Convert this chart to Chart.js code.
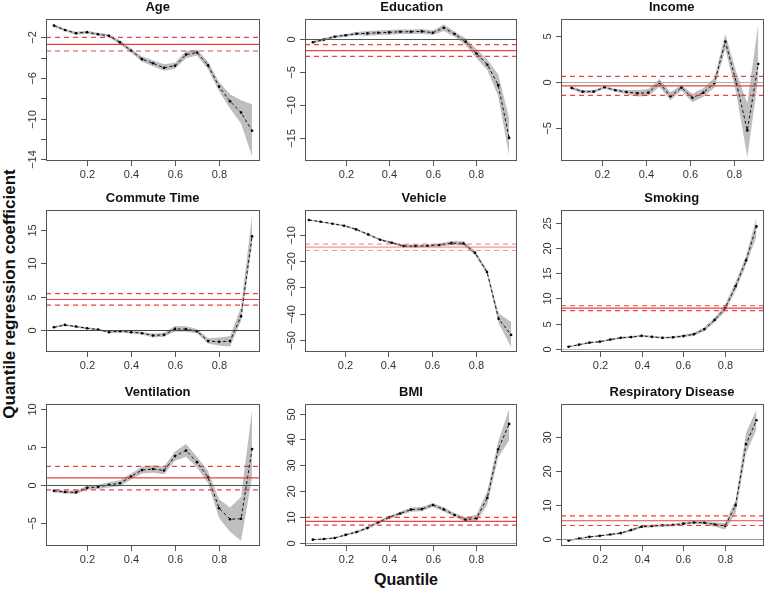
<!DOCTYPE html>
<html><head><meta charset="utf-8">
<script src="https://cdn.jsdelivr.net/npm/chart.js@4.4.1/dist/chart.umd.min.js"></script>
<style>
body{margin:0;background:#fff;width:778px;height:589px;position:relative;overflow:hidden;font-family:"Liberation Sans",Arial,Helvetica,sans-serif}
canvas{position:absolute}
#ytitle{position:absolute;left:10px;top:294px;transform:translate(-50%,-50%) rotate(-90deg);white-space:nowrap;font-weight:bold;font-size:17px;color:#111}
#xtitle{position:absolute;left:406px;top:580px;transform:translate(-50%,-50%);white-space:nowrap;font-weight:bold;font-size:16px;color:#111}
</style></head>
<body>
<div id="ytitle">Quantile regression coefficient</div>
<div id="xtitle">Quantile</div>
<script>
// ---------- data ----------
const panelTitles = ["Age","Education","Income","Commute Time","Vehicle","Smoking","Ventilation","BMI","Respiratory Disease"];
const quantiles = [0.05,0.10,0.15,0.20,0.25,0.30,0.35,0.40,0.45,0.50,0.55,0.60,0.65,0.70,0.75,0.80,0.85,0.90,0.95];
const incomeQuantiles = [0.06,0.11,0.16,0.21,0.26,0.31,0.36,0.41,0.46,0.51,0.56,0.61,0.66,0.71,0.76,0.81,0.86,0.91];
const vehicleQuantiles = [0.037,0.090,0.145,0.198,0.253,0.308,0.363,0.416,0.470,0.524,0.579,0.634,0.689,0.744,0.797,0.852,0.905,0.962];

const ageCoef  = [-0.85,-1.28,-1.6,-1.5,-1.7,-1.85,-2.5,-3.3,-4.15,-4.55,-5.0,-4.8,-3.7,-3.5,-4.75,-6.85,-8.3,-9.4,-11.2];
const ageUpper = [-0.7,-1.15,-1.45,-1.35,-1.55,-1.7,-2.3,-3.1,-3.9,-4.25,-4.65,-4.5,-3.35,-3.2,-4.4,-6.4,-7.6,-8.2,-8.6];
const ageLower = [-1.0,-1.4,-1.75,-1.65,-1.85,-2.0,-2.7,-3.5,-4.4,-4.85,-5.3,-5.1,-4.05,-3.8,-5.15,-7.3,-9.0,-10.5,-13.7];

const eduCoef  = [-0.5,-0.1,0.35,0.55,0.8,0.85,0.95,1.0,1.1,1.1,1.15,0.95,1.7,0.75,-0.4,-2.2,-3.9,-7.0,-15.0];
const eduUpper = [-0.3,0.1,0.55,0.75,1.05,1.2,1.3,1.35,1.45,1.45,1.5,1.3,2.2,1.15,0.1,-1.5,-3.1,-5.4,-12.0];
const eduLower = [-0.7,-0.3,0.15,0.35,0.55,0.5,0.6,0.65,0.75,0.75,0.8,0.6,1.2,0.35,-0.9,-2.9,-4.7,-8.7,-17.7];

const incCoef  = [-0.62,-1.03,-1.03,-0.55,-0.88,-1.07,-1.2,-1.14,-0.07,-1.54,-0.59,-1.69,-1.14,-0.11,4.45,-0.07,-5.26,1.99];
const incUpper = [-0.45,-0.85,-0.85,-0.4,-0.7,-0.85,-0.85,-0.75,0.35,-1.1,-0.3,-1.25,-0.65,0.5,5.25,1.1,-2.3,6.4];
const incLower = [-0.8,-1.2,-1.2,-0.7,-1.05,-1.3,-1.55,-1.5,-0.5,-2.0,-0.9,-2.2,-1.6,-0.6,3.6,-1.2,-8.2,0.4];

const comCoef  = [0.35,0.7,0.45,0.2,0.0,-0.4,-0.25,-0.4,-0.55,-0.9,-0.8,0.1,0.05,-0.25,-1.75,-1.85,-1.75,2.0,14.1];
const comUpper = [0.5,0.85,0.6,0.35,0.15,-0.25,-0.05,-0.2,-0.35,-0.6,-0.5,0.55,0.5,0.1,-1.3,-1.2,-1.0,3.4,17.3];
const comLower = [0.2,0.55,0.3,0.05,-0.15,-0.55,-0.45,-0.6,-0.75,-1.2,-1.1,-0.3,-0.35,-0.55,-2.1,-2.4,-2.6,1.3,12.8];

const vehCoef  = [-4.41,-5.05,-5.81,-6.57,-7.97,-9.87,-11.9,-13.05,-14.3,-14.3,-14.2,-13.9,-13.2,-13.3,-16.9,-24.2,-42.0,-48.1];
const vehUpper = [-4.1,-4.75,-5.5,-6.25,-7.65,-9.5,-11.5,-12.6,-13.8,-13.8,-13.7,-13.3,-12.4,-12.5,-16.1,-23.2,-40.0,-43.1];
const vehLower = [-4.7,-5.35,-6.1,-6.9,-8.3,-10.25,-12.3,-13.5,-14.8,-14.8,-14.7,-14.5,-14.0,-14.1,-17.7,-25.2,-43.8,-52.7];

const smkCoef  = [0.45,0.85,1.25,1.45,1.85,2.2,2.35,2.6,2.4,2.2,2.3,2.55,2.9,3.9,5.75,8.1,12.4,17.5,24.25];
const smkUpper = [0.6,1.0,1.4,1.6,2.0,2.4,2.55,2.8,2.6,2.4,2.5,2.8,3.2,4.3,6.2,8.8,13.3,18.4,26.0];
const smkLower = [0.3,0.7,1.1,1.3,1.7,2.0,2.15,2.4,2.2,2.0,2.1,2.3,2.6,3.5,5.3,7.4,11.5,16.6,22.3];

const venCoef  = [-0.8,-0.95,-1.0,-0.4,-0.27,0.0,0.2,1.1,1.95,2.1,1.9,3.8,4.55,3.0,1.0,-3.1,-4.55,-4.5,4.75];
const venUpper = [-0.6,-0.75,-0.75,-0.15,0.0,0.35,0.6,1.5,2.4,2.6,2.4,4.4,5.4,3.7,1.8,-1.9,-3.0,-1.6,10.0];
const venLower = [-1.0,-1.15,-1.25,-0.65,-0.55,-0.35,-0.2,0.7,1.5,1.6,1.4,3.2,3.7,2.3,0.2,-4.4,-6.2,-7.4,1.0];

const bmiCoef  = [1.15,1.4,1.8,3.0,4.1,5.7,7.9,9.8,11.3,12.8,13.0,14.6,12.9,10.7,8.9,9.4,17.4,36.2,46.0];
const bmiUpper = [1.4,1.7,2.1,3.4,4.6,6.3,8.5,10.4,12.0,13.6,13.8,15.4,13.7,11.5,9.8,10.8,20.0,39.3,51.9];
const bmiLower = [0.9,1.1,1.5,2.6,3.6,5.1,7.3,9.2,10.6,12.0,12.2,13.8,12.1,9.9,8.0,8.0,14.8,33.1,39.6];

const resCoef  = [-0.5,0.1,0.6,0.9,1.3,1.7,2.6,3.6,3.8,4.0,4.1,4.5,4.85,4.75,4.25,3.85,9.9,28.0,35.0];
const resUpper = [-0.3,0.3,0.8,1.1,1.55,2.0,3.0,4.0,4.2,4.4,4.5,4.9,5.3,5.2,4.9,4.6,11.5,31.3,38.2];
const resLower = [-0.7,-0.1,0.4,0.7,1.05,1.4,2.2,3.2,3.4,3.6,3.7,4.1,4.4,4.3,3.6,2.8,7.5,25.3,32.3];

// OLS estimate and its confidence limits (red lines)
const lmCoef  = [-2.7,-1.77,-0.4,4.55,-14.7,8.1,0.93,8.25,5.35];
const lmUpper = [-2.0,-0.86,0.63,5.45,-13.55,8.55,2.45,9.8,6.8];
const lmLower = [-3.35,-2.63,-1.43,3.7,-16.0,7.6,-0.67,6.8,3.95];

// axis ranges and ticks
const xAxisMin = [0.014,0.014,0.012,0.014,0.019,0.014,0.014,0.014,0.014];
const xAxisMax = [0.986,0.986,0.936,0.986,0.989,0.986,0.986,0.986,0.986];
const yAxisMin = [-14.17,-18.5,-8.6,-3.4,-54.6,-0.6,-8.1,-1.3,-2.1];
const yAxisMax = [-0.2,3.03,6.9,18.1,-0.6,27.5,10.7,53.7,39.8];
const xTicks = [0.2,0.4,0.6,0.8];
const xTickLabels = ["0.2","0.4","0.6","0.8"];
const yTicks = [
  [-14,-12,-10,-8,-6,-4,-2],
  [-15,-10,-5,0],
  [-5,0,5],
  [0,5,10,15],
  [-50,-40,-30,-20,-10],
  [0,5,10,15,20,25],
  [-5,0,5,10],
  [0,10,20,30,40,50],
  [0,10,20,30]
];
const yTickLabels = [
  ["\u221214","","\u221210","","\u22126","","\u22122"],
  ["\u221215","\u221210","\u22125","0"],
  ["\u22125","0","5"],
  ["0","5","10","15"],
  ["\u221250","\u221240","\u221230","\u221220","\u221210"],
  ["0","5","10","15","20","25"],
  ["\u22125","0","5","10"],
  ["0","10","20","30","40","50"],
  ["0","10","20","30"]
];

// ---------- layout (plot boxes in page pixels) ----------
const colBox = [[46,260],[305,517],[561,764]];
const rowBox = [[19,161],[210,352],[404,546]];
const titleX = [157.7,411.7,671.7,152.7,424,671.7,157.7,411,672];
const zeroColor = ['#555','#555','#aaa','#444','#555','#bbb','#555','#999','#999'];
const redAlpha = [0.9,0.9,0.9,0.9,0.5,0.9,0.9,0.9,0.9];

const seriesX = [quantiles,quantiles,incomeQuantiles,quantiles,vehicleQuantiles,quantiles,quantiles,quantiles,quantiles];
const seriesCoef = [ageCoef,eduCoef,incCoef,comCoef,vehCoef,smkCoef,venCoef,bmiCoef,resCoef];
const seriesUpper = [ageUpper,eduUpper,incUpper,comUpper,vehUpper,smkUpper,venUpper,bmiUpper,resUpper];
const seriesLower = [ageLower,eduLower,incLower,comLower,vehLower,smkLower,venLower,bmiLower,resLower];

const FONT = '"Liberation Sans", Arial, Helvetica, sans-serif';
const PADL = 40, PADT = 22, PADR = 8, PADB = 28;

const rPanel = {
  id: 'rPanel',
  afterDatasetsDraw(chart) {
    const o = chart.options.plugins.rPanel;
    const {ctx, chartArea: a, scales: {x, y}} = chart;
    ctx.save();
    ctx.beginPath(); ctx.rect(a.left, a.top, a.right - a.left, a.bottom - a.top); ctx.clip();
    // zero line
    if (y.min < 0 && y.max > 0) {
      const py = Math.round(y.getPixelForValue(0)) + 0.5;
      ctx.strokeStyle = o.zeroColor; ctx.lineWidth = 1; ctx.setLineDash([]);
      ctx.beginPath(); ctx.moveTo(a.left, py); ctx.lineTo(a.right, py); ctx.stroke();
    }
    // OLS lines
    const red = `rgba(232,45,45,${o.redAlpha})`;
    ctx.strokeStyle = red; ctx.lineWidth = 1.2;
    [[o.lm, []], [o.lmU, [5, 4]], [o.lmL, [5, 4]]].forEach(([v, d]) => {
      const py = y.getPixelForValue(v);
      ctx.setLineDash(d);
      ctx.beginPath(); ctx.moveTo(a.left, py); ctx.lineTo(a.right, py); ctx.stroke();
    });
    ctx.restore();

    ctx.save();
    ctx.setLineDash([]);
    ctx.strokeStyle = '#555'; ctx.lineWidth = 1;
    ctx.strokeRect(a.left + 0.5, a.top + 0.5, a.right - a.left - 1, a.bottom - a.top - 1);
    ctx.fillStyle = '#333';
    ctx.font = '11px ' + FONT;
    ctx.textAlign = 'center'; ctx.textBaseline = 'middle';
    o.xTicks.forEach((v, i) => {
      const px = Math.round(x.getPixelForValue(v)) + 0.5;
      ctx.beginPath(); ctx.moveTo(px, a.bottom); ctx.lineTo(px, a.bottom + 5); ctx.stroke();
      ctx.fillText(o.xLabels[i], px, a.bottom + 14);
    });
    o.yTicks.forEach((v, i) => {
      const py = Math.round(y.getPixelForValue(v)) + 0.5;
      ctx.beginPath(); ctx.moveTo(a.left, py); ctx.lineTo(a.left - 5, py); ctx.stroke();
      const lab = o.yLabels[i];
      if (lab) {
        ctx.save(); ctx.translate(a.left - 13, py); ctx.rotate(-Math.PI / 2);
        ctx.fillText(lab, 0, 0); ctx.restore();
      }
    });
    // panel title
    ctx.fillStyle = '#111';
    ctx.font = 'bold 13px ' + FONT;
    ctx.fillText(o.title, o.titleX, a.top - 12);
    ctx.restore();
  }
};

panelTitles.forEach((title, i) => {
  const c = i % 3, r = Math.floor(i / 3);
  const [l, rr] = colBox[c], [t, b] = rowBox[r];
  const cv = document.createElement('canvas');
  const W = rr - l + PADL + PADR, H = b - t + PADT + PADB;
  cv.width = W; cv.height = H;
  cv.style.left = (l - PADL) + 'px'; cv.style.top = (t - PADT) + 'px';
  cv.style.width = W + 'px'; cv.style.height = H + 'px';
  document.body.appendChild(cv);
  const xs = seriesX[i];
  const pts = arr => arr.map((v, k) => ({x: xs[k], y: v}));
  new Chart(cv, {
    type: 'line',
    data: {datasets: [
      {data: pts(seriesLower[i]), order: 2, borderWidth: 0, pointRadius: 0, fill: false, tension: 0},
      {data: pts(seriesUpper[i]), order: 1, borderWidth: 0, pointRadius: 0, fill: '-1', backgroundColor: '#bebebe', tension: 0},
      {data: pts(seriesCoef[i]), order: 0, borderColor: '#111', borderWidth: 1, borderDash: [3, 2.5],
       pointRadius: 1.3, pointBorderWidth: 0, pointBackgroundColor: '#000', fill: false, tension: 0}
    ]},
    options: {
      responsive: false, animation: false, devicePixelRatio: 1,
      layout: {padding: {left: PADL, top: PADT, right: PADR, bottom: PADB}},
      scales: {
        x: {type: 'linear', display: false, min: xAxisMin[i], max: xAxisMax[i]},
        y: {type: 'linear', display: false, min: yAxisMin[i], max: yAxisMax[i]}
      },
      plugins: {
        legend: {display: false}, tooltip: {enabled: false},
        rPanel: {
          title, titleX: titleX[i] - (l - PADL),
          lm: lmCoef[i], lmU: lmUpper[i], lmL: lmLower[i],
          zeroColor: zeroColor[i], redAlpha: redAlpha[i],
          xTicks, xLabels: xTickLabels, yTicks: yTicks[i], yLabels: yTickLabels[i]
        }
      }
    },
    plugins: [rPanel]
  });
});
</script>
</body></html>
